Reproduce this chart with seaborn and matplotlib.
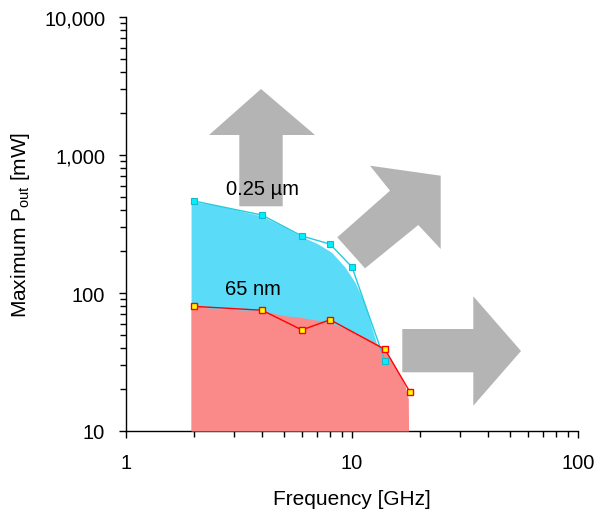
import matplotlib
matplotlib.use("Agg")
import matplotlib.pyplot as plt
import matplotlib.ticker as mticker
from matplotlib.patches import Polygon
import numpy as np
import pandas as pd
import seaborn as sns

# ---- data ----
freq_025 = [2, 4, 6, 8, 10, 14]
pout_025 = [464, 367, 259, 226, 154, 32]
freq_65 = [2, 4, 6, 8, 14, 18]
pout_65 = [80, 75, 54, 64, 39, 19.3]

# shaded envelopes
env_freq_025 = [1.94, 2.56, 3.96, 5.05, 5.89, 7.10, 8.13, 9.31, 10.31, 11.42, 12.23, 12.86, 12.9]
env_pout_025 = [462, 429, 363, 299, 260, 226, 197, 154, 119.5, 83.2, 56.4, 42.7, 10]
env_freq_65 = [1.94, 2.56, 3.96, 5.05, 5.89, 7.86, 9.97, 12.23, 13.76, 15.77, 17.16, 17.75, 17.8]
env_pout_65 = [80.9, 76.5, 74.5, 68.5, 66.7, 61.4, 53.3, 45.1, 40.4, 28.1, 21.3, 17.1, 10]

x_ticks = [1, 10, 100]
y_ticks = [10, 100, 1000, 10000]
labels = ["0.25 µm", "65 nm"]

W, H = 597, 510
AX_L, AX_R, AX_T, AX_B = 126, 578, 18, 432

sns.set_theme(style="ticks")
plt.rcParams["font.family"] = ["Liberation Sans", "DejaVu Sans"]
plt.rcParams["mathtext.fontset"] = "custom"
plt.rcParams["mathtext.rm"] = "Liberation Sans"

fig = plt.figure(figsize=(W / 100, H / 100), dpi=100)
ax = fig.add_axes([AX_L / W, 1 - AX_B / H, (AX_R - AX_L) / W, (AX_B - AX_T) / H])

def px(pts):
    return [((x - AX_L) / (AX_R - AX_L), (AX_B - y) / (AX_B - AX_T)) for x, y in pts]

arrow_up = [(261, 90), (315, 136), (282.7, 136), (282.7, 207.3), (239.3, 207.3), (239.3, 136), (209, 136)]
arrow_diag = [(370, 166.7), (440.7, 176.7), (440.7, 250), (418.3, 226), (365, 269.3), (337.3, 238.3), (390, 191.7)]
arrow_right = [(402.3, 330), (473.3, 330), (473.3, 297.3), (521, 352), (473.3, 406.7), (473.3, 373.3), (402.3, 373.3)]
for poly in (arrow_up, arrow_diag, arrow_right):
    ax.add_patch(Polygon(px(poly), closed=True, transform=ax.transAxes,
                         facecolor="#B4B4B4", edgecolor="none", zorder=1))

ax.fill_between(env_freq_025, 10, env_pout_025, color="#5ADCF8", linewidth=0, zorder=2)
ax.fill_between(env_freq_65, 10, env_pout_65, color="#FA8A8A", linewidth=0, zorder=3)

df025 = pd.DataFrame({"f": freq_025, "p": pout_025})
df65 = pd.DataFrame({"f": freq_65, "p": pout_65})
sns.lineplot(data=df025, x="f", y="p", ax=ax, color="#22CCDD", linewidth=1,
             marker="s", markersize=4.8, markerfacecolor="#00F0FF",
             markeredgecolor="#11BBCC", markeredgewidth=0.8, zorder=4)
sns.lineplot(data=df65, x="f", y="p", ax=ax, color="#FF0000", linewidth=1,
             marker="s", markersize=5, markerfacecolor="#FFFF00",
             markeredgecolor="#FF0000", markeredgewidth=1, zorder=5)

ax.set_xscale("log")
ax.set_yscale("log")
ax.set_xlim(1, 100)
ax.set_ylim(10, 10000)
ax.set_xticks(x_ticks)
ax.set_yticks(y_ticks)
ax.xaxis.set_major_formatter(mticker.FuncFormatter(lambda v, p: f"{v:,.0f}"))
ax.yaxis.set_major_formatter(mticker.FuncFormatter(lambda v, p: f"{v:,.0f}"))
ax.xaxis.set_minor_locator(mticker.LogLocator(base=10, subs=np.arange(2, 10)))
ax.yaxis.set_minor_locator(mticker.LogLocator(base=10, subs=np.arange(2, 10)))
ax.xaxis.set_minor_formatter(mticker.NullFormatter())
ax.yaxis.set_minor_formatter(mticker.NullFormatter())

for s in ("top", "right"):
    ax.spines[s].set_visible(False)
for s in ("left", "bottom"):
    ax.spines[s].set_color("black")
    ax.spines[s].set_linewidth(1)
ax.tick_params(which="major", direction="out", length=5, width=1, color="black",
               labelsize=14.5, labelcolor="black")
ax.tick_params(which="minor", direction="out", length=4, width=1, color="black")
ax.tick_params(axis="x", which="major", pad=11)
ax.tick_params(axis="y", which="major", pad=10)

ax.set_xlabel("Frequency [GHz]", fontsize=15, labelpad=12, color="black")
ax.set_ylabel(r"Maximum P$_\mathrm{out}$ [mW]", fontsize=15, labelpad=9, color="black")

ax.text(*px([(262, 190)])[0], labels[0], transform=ax.transAxes, ha="center", va="center",
        fontsize=14.5, color="black", zorder=6)
ax.text(*px([(253, 290)])[0], labels[1], transform=ax.transAxes, ha="center", va="center",
        fontsize=14.5, color="black", zorder=6)

fig.savefig("out.png", dpi=100)
